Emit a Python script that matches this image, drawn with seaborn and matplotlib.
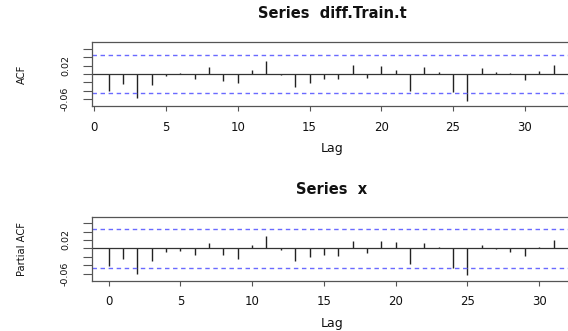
import numpy as np
import matplotlib
matplotlib.use("Agg")
import matplotlib.pyplot as plt
import seaborn as sns

# ACF of diff.Train.t (lag 0 not drawn)
acf_lags = list(range(1, 33))
acf_vals = [-0.041, -0.024, -0.058, -0.025, -0.004, 0.0015, -0.011, 0.016,
            -0.016, -0.022, 0.0087, 0.030, -0.0024, -0.030, -0.021, -0.012,
            -0.012, 0.022, -0.009, 0.020, 0.0105, -0.041, 0.016, 0.0045,
            -0.0425, -0.063, 0.014, 0.0045, 0.003, -0.0145, 0.0065, 0.022]

# PACF of x
pacf_lags = list(range(0, 32))
pacf_vals = [-0.042, -0.025, -0.060, -0.030, -0.0095, -0.0063, -0.016, 0.013,
             -0.016, -0.0245, 0.007, 0.029, -0.003, -0.030, -0.021, -0.016,
             -0.018, 0.017, -0.012, 0.017, 0.015, -0.038, 0.014, 0.003,
             -0.046, -0.063, 0.009, -0.002, -0.009, -0.017, 0.003, 0.019]

conf = 0.046
y_ticks = [-0.06, -0.04, -0.02, 0.0, 0.02, 0.04, 0.06]
y_labels = ["-0.06", "", "", "", "0.02", "", ""]
x_ticks = [0, 5, 10, 15, 20, 25, 30]

sns.set_theme(style="white")
plt.rcParams['font.family'] = ['DejaVu Sans']

W, H = 568, 331
fig = plt.figure(figsize=(W / 100, H / 100), dpi=100)


def px_box(left, top, right, bottom):
    return [left / W, 1 - bottom / H, (right - left) / W, (bottom - top) / H]


panels = [
    (px_box(91.7, 42.3, 572.3, 106.3), acf_lags, acf_vals, (-0.18, 33.31),
     "Series  diff.Train.t", "ACF", 14, 148),
    (px_box(91.7, 216.7, 572.3, 280.7), pacf_lags, pacf_vals, (-1.18, 32.31),
     "Series  x", "Partial ACF", 189, 323),
]

for box, lags, vals, xlim, title, ylab, title_y, lag_y in panels:
    ax = fig.add_axes(box)
    ax.vlines(lags, 0, vals, color="#222222", lw=1.0)
    ax.axhline(0, color="#333333", lw=0.9)
    for c in (conf, -conf):
        ax.axhline(c, color="#6a6aff", lw=1.0, dashes=(3.2, 2.6))
    ax.set_xlim(*xlim)
    ax.set_ylim(-0.0766, 0.0752)
    ax.set_xticks(x_ticks)
    ax.set_xticklabels([str(t) for t in x_ticks], fontsize=8.5, color="#111111")
    ax.set_yticks(y_ticks)
    ax.set_yticklabels(y_labels, rotation=90, fontsize=6.8, va="center",
                       color="#111111")
    ax.tick_params(axis="x", bottom=True, length=3.8, width=0.8,
                   color="#555555", pad=6.5, direction="out")
    ax.tick_params(axis="y", left=True, length=6.7, width=0.8,
                   color="#555555", pad=9, direction="out")
    for sp in ax.spines.values():
        sp.set_color("#555555")
        sp.set_linewidth(0.9)
    ax.grid(False)

    cx = (box[0] + box[2] / 2)
    cy = box[1] + box[3] / 2
    fig.text(cx, 1 - title_y / H, title, ha="center", va="center",
             fontsize=10.5, fontweight="bold", color="#111111")
    fig.text(cx, 1 - lag_y / H, "Lag", ha="center", va="center",
             fontsize=9, color="#111111")
    fig.text(22 / W, cy, ylab, rotation=90, ha="center", va="center",
             fontsize=7.2, color="#111111")

fig.savefig("out.png", dpi=100)
